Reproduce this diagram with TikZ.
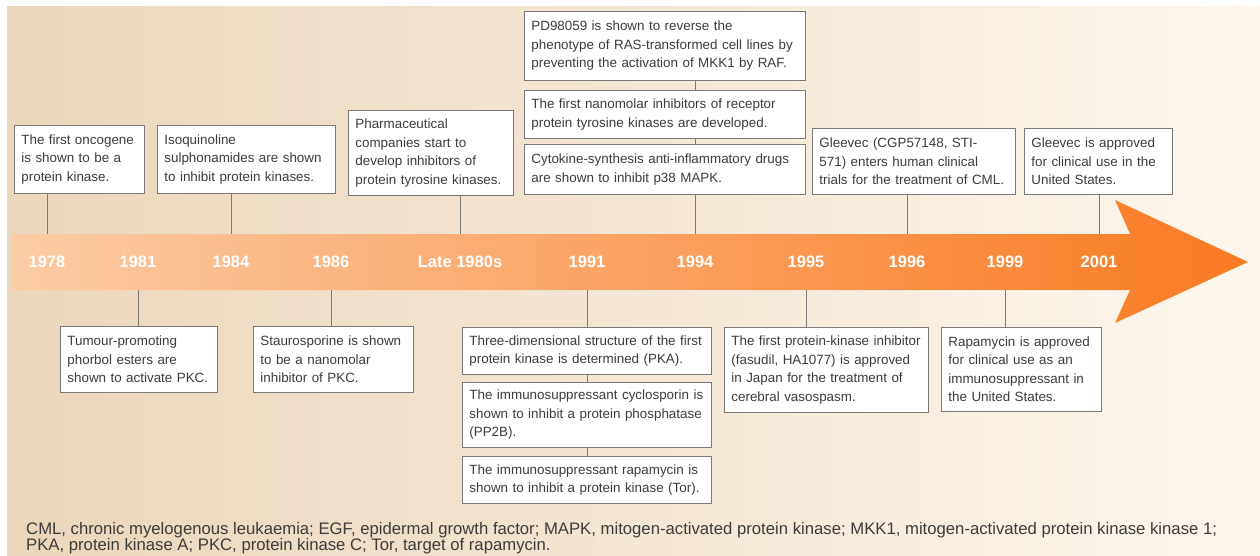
\documentclass[tikz,border=0pt]{standalone}
\usepackage{fontspec}
\setmainfont{Liberation Sans}
\usetikzlibrary{positioning}
\definecolor{bgleft}{HTML}{EAD6BB}
\definecolor{bgright}{HTML}{FEF7EE}
\definecolor{arrleft}{HTML}{FCCBA3}
\definecolor{arrright}{HTML}{F97A22}
\definecolor{ink}{HTML}{3C3C3C}
\definecolor{rulegray}{HTML}{7A7A7A}
\tikzset{event/.style={draw=rulegray, fill=white, line width=0.8pt, text=ink, align=left, inner xsep=7pt, inner ysep=0pt, anchor=north west, font=\fontsize{13.4}{18.5}\selectfont}}
\tikzset{year/.style={text=white, font=\fontsize{16.5}{18}\selectfont\bfseries}}
\tikzset{tick/.style={draw=rulegray, line width=0.8pt}}

\begin{document}
\begin{tikzpicture}[x=1pt, y=-1pt]
        \useasboundingbox (0,0) rectangle (1260,556);
        \shade[left color=bgleft, right color=bgright] (7,7) rectangle (1260,556);
        % timeline arrow
        \shade[left color=arrleft, right color=arrright] (12,234) -- (1130,234) -- (1115,200) -- (1248,262) -- (1115,323) -- (1130,290) -- (12,290) -- cycle;
        \coordinate (top) at (0,234);
        \coordinate (bot) at (0,290);

        \node[year] (y1978) at (47,262) {1978};
        \node[year] (y1981) at (138,262) {1981};
        \node[year] (y1984) at (231,262) {1984};
        \node[year] (y1986) at (331,262) {1986};
        \node[year] (y1980s) at (460,262) {Late 1980s};
        \node[year] (y1991) at (587,262) {1991};
        \node[year] (y1994) at (695,262) {1994};
        \node[year] (y1995) at (806,262) {1995};
        \node[year] (y1996) at (907,262) {1996};
        \node[year] (y1999) at (1005,262) {1999};
        \node[year] (y2001) at (1099,262) {2001};

        % above the arrow
        \node[event, text width=116pt, minimum height=68pt] (oncogene) at (14,125) {The first oncogene\\is shown to be a\\protein kinase.};
        \node[event, text width=164pt, minimum height=68pt] (isoquin) at (157,125) {Isoquinoline\\sulphonamides are shown\\to inhibit protein kinases.};
        \node[event, text width=151pt, minimum height=85pt] (pharma) at (348,110) {Pharmaceutical\\companies start to\\develop inhibitors of\\protein tyrosine kinases.};
        \node[event, text width=267pt, minimum height=69pt] (pd) at (524,11) {PD98059 is shown to reverse the\\phenotype of RAS-transformed cell lines by\\preventing the activation of MKK1 by RAF.};
        \node[event, text width=267pt, minimum height=48pt] (nanomolar) at (524,90) {The first nanomolar inhibitors of receptor\\protein tyrosine kinases are developed.};
        \node[event, text width=267pt, minimum height=50pt] (cytokine) at (524,144) {Cytokine-synthesis anti-inflammatory drugs\\are shown to inhibit p38 MAPK.};
        \node[event, text width=189pt, minimum height=66pt] (gleevecA) at (812,128) {Gleevec (CGP57148, STI-\\571) enters human clinical\\trials for the treatment of CML.};
        \node[event, text width=134pt, minimum height=66pt] (gleevecB) at (1024,128) {Gleevec is approved\\for clinical use in the\\United States.};

        % below the arrow
        \node[event, text width=143pt, minimum height=66pt] (phorbol) at (60,326) {Tumour-promoting\\phorbol esters are\\shown to activate PKC.};
        \node[event, text width=146pt, minimum height=66pt] (stauro) at (253,326) {Staurosporine is shown\\to be a nanomolar\\inhibitor of PKC.};
        \node[event, text width=235pt, minimum height=47pt] (threed) at (462,327) {Three-dimensional structure of the first\\protein kinase is determined (PKA).};
        \node[event, text width=235pt, minimum height=65pt] (cyclo) at (462,382) {The immunosuppressant cyclosporin is\\shown to inhibit a protein phosphatase\\(PP2B).};
        \node[event, text width=235pt, minimum height=47pt] (rapa) at (462,456) {The immunosuppressant rapamycin is\\shown to inhibit a protein kinase (Tor).};
        \node[event, text width=190pt, minimum height=85pt] (fasudil) at (724,327) {The first protein-kinase inhibitor\\(fasudil, HA1077) is approved\\in Japan for the treatment of\\cerebral vasospasm.};
        \node[event, text width=146pt, minimum height=84pt] (rapaok) at (941,327) {Rapamycin is approved\\for clinical use as an\\immunosuppressant in\\the United States.};

        \node[text=ink, align=left, anchor=base west, inner sep=0pt, font=\fontsize{16.7}{16}\selectfont] (legend) at (26,550) {CML, chronic myelogenous leukaemia; EGF, epidermal growth factor; MAPK, mitogen-activated protein kinase; MKK1, mitogen-activated protein kinase kinase 1;\\PKA, protein kinase A; PKC, protein kinase C; Tor, target of rapamycin.};

        \begin{scope}[tick]
            \draw (oncogene.south -| y1978) -- (y1978 |- top);
            \draw (isoquin.south -| y1984) -- (y1984 |- top);
            \draw (pharma.south -| y1980s) -- (y1980s |- top);
            \draw (pd.south -| y1994) -- (nanomolar.north -| y1994);
            \draw (nanomolar.south -| y1994) -- (cytokine.north -| y1994);
            \draw (cytokine.south -| y1994) -- (y1994 |- top);
            \draw (gleevecA.south -| y1996) -- (y1996 |- top);
            \draw (gleevecB.south -| y2001) -- (y2001 |- top);
            \draw (y1981 |- bot) -- (phorbol.north -| y1981);
            \draw (y1986 |- bot) -- (stauro.north -| y1986);
            \draw (y1991 |- bot) -- (threed.north -| y1991);
            \draw (threed.south -| y1991) -- (cyclo.north -| y1991);
            \draw (cyclo.south -| y1991) -- (rapa.north -| y1991);
            \draw (y1995 |- bot) -- (fasudil.north -| y1995);
            \draw (y1999 |- bot) -- (rapaok.north -| y1999);
        \end{scope}
    \end{tikzpicture}
\end{document}
